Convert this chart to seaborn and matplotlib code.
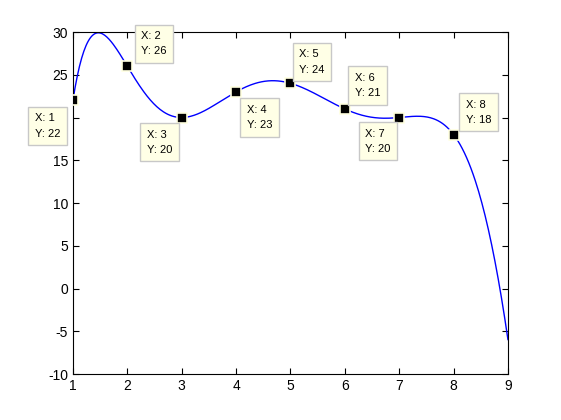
import numpy as np
import pandas as pd
import matplotlib
matplotlib.use("Agg")
import matplotlib.pyplot as plt
import seaborn as sns

# data points (the curve is the degree-7 polynomial through them)
x_pts = [1, 2, 3, 4, 5, 6, 7, 8]
y_pts = [22, 26, 20, 23, 24, 21, 20, 18]
x_ticks = [1, 2, 3, 4, 5, 6, 7, 8, 9]
y_ticks = [-10, -5, 0, 5, 10, 15, 20, 25, 30]

# data tip offsets (pixels from the point to the text's top-left corner)
tip_offsets = [(-38, -13), (14, 35), (-35, -12), (11, -13),
               (9, 34), (10, 36), (-34, -11), (12, 35)]

coef = np.polyfit(x_pts, y_pts, 7)
xs = np.linspace(1, 9, 400)
curve = pd.DataFrame({"x": xs, "y": np.polyval(coef, xs)})
pts = pd.DataFrame({"x": x_pts, "y": y_pts})

sns.set_style("ticks")
plt.rcParams['font.family'] = ['Liberation Sans', 'DejaVu Sans']
plt.rcParams['axes.unicode_minus'] = False

fig = plt.figure(figsize=(5.61, 4.2), dpi=100)
ax = fig.add_axes([0.13, 0.1095, 0.7755, 0.8143])

sns.lineplot(data=curve, x="x", y="y", ax=ax, color="#0000ff", linewidth=1.0)
sns.scatterplot(data=pts, x="x", y="y", ax=ax, marker="s", s=60,
                color="black", edgecolor="#ffffe0", linewidth=1.2, zorder=5)

for (xp, yp), (dx, dy) in zip(zip(x_pts, y_pts), tip_offsets):
    ax.annotate(f"X: {xp}\nY: {yp}", xy=(xp, yp), xytext=(dx, dy),
                textcoords="offset pixels", ha="left", va="top", fontsize=8,
                linespacing=1.65, zorder=6, color="black",
                bbox=dict(boxstyle="square,pad=0.6", facecolor="#ffffe6",
                          edgecolor="#c8c8c8", linewidth=1))

ax.set_xlim(1, 9)
ax.set_ylim(-10, 30)
ax.set_xticks(x_ticks)
ax.set_yticks(y_ticks)
ax.set_xlabel("")
ax.set_ylabel("")
ax.tick_params(direction="in", top=True, right=True, labelsize=10, length=4,
               width=0.8, colors="black")
for sp in ax.spines.values():
    sp.set_visible(True)
    sp.set_color("black")
    sp.set_linewidth(0.8)

fig.savefig("out.png", dpi=100)
